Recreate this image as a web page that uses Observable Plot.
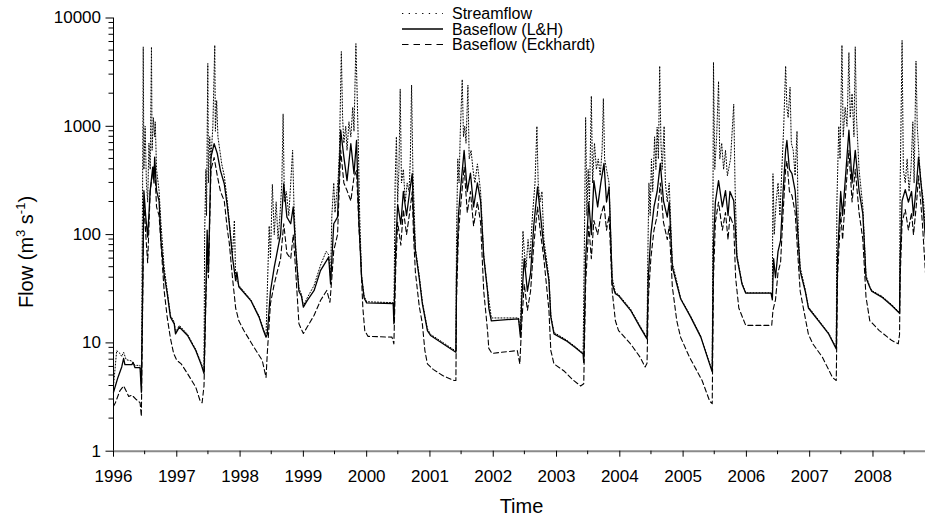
<!DOCTYPE html>
<html><head><meta charset="utf-8">
<script src="https://cdn.jsdelivr.net/npm/d3@7"></script>
<script src="https://cdn.jsdelivr.net/npm/@observablehq/plot@0.6"></script>
<style>body{margin:0;background:#fff}#chart{width:925px;height:517px}</style>
</head><body><div id="chart"></div>
<script>
const xTicks = [1996,1997,1998,1999,2000,2001,2002,2003,2004,2005,2006,2007,2008];
const xMinorTicks = [1996.5,1997.5,1998.5,1999.5,2000.5,2001.5,2002.5,2003.5,2004.5,2005.5,2006.5,2007.5,2008.5];
const yTicks = [1,10,100,1000,10000];
const yMinorTicks = [2,3,4,5,6,7,8,9,20,30,40,50,60,70,80,90,200,300,400,500,600,700,800,900,2000,3000,4000,5000,6000,7000,8000,9000];
const seriesNames = ["Streamflow","Baseflow (L&H)","Baseflow (Eckhardt)"];

const streamflow = [
[1996.00,4.0],[1996.05,8.5],[1996.10,8.0],[1996.13,7.5],[1996.16,8.2],[1996.20,7.0],[1996.29,6.8],[1996.34,6.2],[1996.42,6.2],[1996.44,4.0],[1996.46,300],[1996.47,5400],[1996.48,400],[1996.50,1000],[1996.52,300],[1996.54,200],[1996.56,700],[1996.58,400],[1996.60,5400],[1996.61,600],[1996.63,1200],[1996.65,800],[1996.66,1100],[1996.68,400],[1996.72,255],[1996.75,126],[1996.80,50],[1996.85,30],[1996.90,18],[1996.96,15.5],[1996.98,12.5],[1997.04,14.5],[1997.17,12],[1997.30,8.7],[1997.39,6.4],[1997.43,5.4],
[1997.44,100],[1997.46,400],[1997.47,150],[1997.49,3800],[1997.50,300],[1997.52,800],[1997.54,500],[1997.57,1000],[1997.60,5600],[1997.61,900],[1997.63,1730],[1997.65,800],[1997.68,600],[1997.71,450],[1997.75,350],[1997.80,200],[1997.83,130],[1997.88,65],[1997.91,135],[1997.93,40],[1997.98,34],[1998.17,25],[1998.30,17.6],[1998.37,13.3],[1998.41,11.5],
[1998.43,30],[1998.46,120],[1998.48,60],[1998.51,290],[1998.54,100],[1998.57,200],[1998.60,90],[1998.63,150],[1998.66,300],[1998.68,1300],[1998.70,200],[1998.73,250],[1998.77,150],[1998.80,300],[1998.83,600],[1998.85,200],[1998.88,75],[1998.93,32],[1998.97,28],[1999.00,22],[1999.06,26],[1999.17,34],[1999.27,52],[1999.36,70],[1999.40,65],[1999.43,40],
[1999.45,150],[1999.48,300],[1999.50,160],[1999.53,250],[1999.55,330],[1999.57,600],[1999.60,4900],[1999.62,1200],[1999.64,700],[1999.67,1000],[1999.69,600],[1999.72,1100],[1999.75,800],[1999.78,1500],[1999.80,900],[1999.83,5800],[1999.85,2000],[1999.87,600],[1999.89,150],[1999.92,42],[1999.96,27],[2000.00,24],[2000.42,23.5],[2000.43,16],
[2000.45,300],[2000.47,800],[2000.49,200],[2000.51,400],[2000.53,2200],[2000.55,300],[2000.58,400],[2000.61,200],[2000.64,300],[2000.67,250],[2000.69,500],[2000.71,2400],[2000.73,400],[2000.75,180],[2000.77,75],[2000.83,42],[2000.88,24],[2000.96,13.5],[2001.01,12],[2001.41,8.4],
[2001.42,100],[2001.44,500],[2001.46,300],[2001.48,900],[2001.51,2700],[2001.53,800],[2001.55,1000],[2001.57,700],[2001.60,2400],[2001.62,500],[2001.65,600],[2001.68,400],[2001.71,300],[2001.75,450],[2001.80,250],[2001.85,65],[2001.91,31],[2001.97,17],[2002.40,17],[2002.43,12],
[2002.45,40],[2002.47,108],[2002.49,70],[2002.52,50],[2002.55,90],[2002.58,60],[2002.62,150],[2002.66,300],[2002.69,1000],[2002.71,300],[2002.74,200],[2002.77,250],[2002.80,90],[2002.88,40],[2002.91,18],[2002.96,12.5],[2003.15,10.7],[2003.30,9.2],[2003.42,8],
[2003.44,80],[2003.46,1200],[2003.48,150],[2003.50,400],[2003.52,200],[2003.55,1900],[2003.57,300],[2003.60,700],[2003.63,400],[2003.66,500],[2003.69,350],[2003.72,600],[2003.74,1800],[2003.76,500],[2003.79,400],[2003.83,300],[2003.88,40],[2003.93,29],[2003.98,28],[2004.17,20.5],[2004.32,14.3],[2004.43,11.2],
[2004.44,50],[2004.46,300],[2004.48,150],[2004.50,500],[2004.52,250],[2004.55,800],[2004.57,400],[2004.59,980],[2004.61,500],[2004.63,3600],[2004.65,700],[2004.67,400],[2004.70,1000],[2004.72,300],[2004.75,200],[2004.78,300],[2004.83,55],[2004.90,37],[2004.96,26],[2005.12,17.6],[2005.28,11.5],[2005.40,7],[2005.46,5.5],
[2005.47,100],[2005.48,3900],[2005.50,400],[2005.53,800],[2005.56,2600],[2005.58,500],[2005.61,700],[2005.64,400],[2005.67,600],[2005.70,350],[2005.75,500],[2005.80,1600],[2005.82,300],[2005.85,65],[2005.93,36],[2005.99,29],[2006.39,29],[2006.41,26],
[2006.42,365],[2006.44,100],[2006.47,200],[2006.50,300],[2006.53,150],[2006.56,400],[2006.59,1000],[2006.62,3600],[2006.64,1500],[2006.66,1200],[2006.69,2300],[2006.71,700],[2006.74,600],[2006.77,350],[2006.80,900],[2006.82,100],[2006.85,50],[2006.93,31],[2006.98,21.5],[2007.14,16.3],[2007.30,12.3],[2007.42,9],
[2007.43,200],[2007.46,1000],[2007.48,500],[2007.51,5600],[2007.53,800],[2007.56,1500],[2007.59,1000],[2007.62,4800],[2007.64,1200],[2007.67,2000],[2007.70,800],[2007.72,5400],[2007.74,1200],[2007.78,400],[2007.84,180],[2007.89,42],[2007.95,33],[2007.98,30.5],[2008.14,27],[2008.30,22.5],[2008.42,19],
[2008.43,300],[2008.46,6200],[2008.48,400],[2008.51,300],[2008.54,500],[2008.57,250],[2008.60,400],[2008.63,1100],[2008.65,300],[2008.68,4000],[2008.70,1000],[2008.73,500],[2008.76,300],[2008.80,200],[2008.83,100]
];

const baseflowLH = [
[1996.00,3.5],[1996.07,4.8],[1996.13,6.0],[1996.16,7.2],[1996.18,6.3],[1996.29,6.3],[1996.31,6.6],[1996.34,5.9],[1996.42,5.9],[1996.44,3.5],[1996.46,30],[1996.48,255],[1996.51,145],[1996.54,95],[1996.58,255],[1996.62,420],[1996.64,300],[1996.65,520],[1996.68,255],[1996.72,205],[1996.75,88],[1996.80,43],[1996.85,28.4],[1996.90,17.3],[1996.96,15],[1996.98,12.1],[1997.04,14],[1997.17,11.7],[1997.30,8.5],[1997.39,6.2],[1997.43,5.2],
[1997.46,30],[1997.48,110],[1997.50,45],[1997.54,520],[1997.59,690],[1997.64,560],[1997.69,390],[1997.75,295],[1997.80,180],[1997.83,126],[1997.88,62],[1997.93,37.6],[1997.95,45],[1997.98,33],[1998.17,24.6],[1998.30,17.3],[1998.37,13],[1998.41,11.3],
[1998.43,12],[1998.48,30],[1998.54,50],[1998.59,71],[1998.64,100],[1998.69,295],[1998.74,145],[1998.80,126],[1998.84,180],[1998.88,71],[1998.93,30],[1998.97,27],[1999.00,21.4],[1999.06,24.6],[1999.17,30.5],[1999.27,46.5],[1999.40,62],[1999.43,35],
[1999.48,126],[1999.54,145],[1999.59,920],[1999.64,520],[1999.69,315],[1999.75,690],[1999.80,365],[1999.84,740],[1999.88,124],[1999.92,40],[1999.96,26],[2000.00,23.4],[2000.42,23.1],[2000.43,15],
[2000.46,80],[2000.49,190],[2000.54,125],[2000.58,250],[2000.63,150],[2000.68,250],[2000.72,366],[2000.74,150],[2000.77,71],[2000.83,40],[2000.88,23],[2000.96,13],[2001.01,11.7],[2001.41,8.2],
[2001.42,40],[2001.45,150],[2001.48,250],[2001.54,600],[2001.59,250],[2001.64,370],[2001.69,180],[2001.75,300],[2001.80,205],[2001.85,62],[2001.91,30],[2001.93,21],[2001.97,16],[2002.40,16.7],[2002.43,11.3],
[2002.45,25],[2002.49,60],[2002.54,30],[2002.59,44],[2002.64,120],[2002.70,275],[2002.75,145],[2002.80,76],[2002.88,37.6],[2002.91,17.3],[2002.96,12.1],[2003.15,10.5],[2003.30,9],[2003.42,7.9],[2003.43,6.6],
[2003.46,60],[2003.51,200],[2003.55,100],[2003.59,315],[2003.65,180],[2003.70,300],[2003.75,455],[2003.79,200],[2003.83,275],[2003.88,35],[2003.93,28.4],[2003.98,27.3],[2004.17,20],[2004.32,14],[2004.43,10.9],
[2004.45,40],[2004.49,100],[2004.54,180],[2004.59,250],[2004.64,455],[2004.69,205],[2004.75,145],[2004.78,200],[2004.83,50],[2004.90,35],[2004.96,25.6],[2005.12,17.3],[2005.28,11.3],[2005.40,6.9],[2005.46,5.4],
[2005.48,80],[2005.51,200],[2005.56,315],[2005.62,180],[2005.67,255],[2005.71,150],[2005.74,250],[2005.80,205],[2005.85,62],[2005.93,35],[2005.99,28.8],[2006.39,28.8],[2006.41,25],
[2006.43,60],[2006.46,40],[2006.50,70],[2006.54,88],[2006.58,250],[2006.62,600],[2006.64,740],[2006.68,400],[2006.72,366],[2006.77,255],[2006.85,46],[2006.93,30],[2006.98,21],[2007.14,16],[2007.30,12.1],[2007.42,8.8],
[2007.44,60],[2007.49,250],[2007.52,150],[2007.57,366],[2007.62,920],[2007.67,300],[2007.72,600],[2007.78,255],[2007.84,155],[2007.89,40],[2007.95,32.7],[2007.98,30],[2008.14,26.5],[2008.30,22],[2008.42,18.8],
[2008.43,60],[2008.46,205],[2008.51,260],[2008.56,200],[2008.61,250],[2008.64,150],[2008.69,300],[2008.72,520],[2008.78,220],[2008.83,90]
];

const baseflowEck = [
[1996.00,2.6],[1996.03,2.8],[1996.10,3.6],[1996.16,4.0],[1996.20,3.6],[1996.24,3.2],[1996.29,3.3],[1996.36,3.0],[1996.42,2.8],[1996.44,2.1],[1996.46,20],[1996.48,205],[1996.51,100],[1996.54,55],[1996.58,255],[1996.62,380],[1996.65,450],[1996.68,180],[1996.72,150],[1996.75,82],[1996.80,30.5],[1996.85,17],[1996.90,11],[1996.95,8],[1997.00,6.9],[1997.07,6.4],[1997.17,5.2],[1997.30,3.9],[1997.37,2.9],[1997.40,2.8],[1997.43,4.0],
[1997.46,25],[1997.48,70],[1997.50,40],[1997.54,400],[1997.59,515],[1997.64,350],[1997.69,250],[1997.75,205],[1997.80,110],[1997.83,83],[1997.88,40],[1997.93,21],[1997.98,16],[1998.06,13],[1998.22,9.1],[1998.35,6.9],[1998.41,4.8],
[1998.43,8],[1998.48,23],[1998.54,35],[1998.59,46],[1998.64,60],[1998.69,126],[1998.74,67],[1998.80,60],[1998.84,100],[1998.88,45],[1998.93,15],[1999.00,12.2],[1999.06,14],[1999.17,18],[1999.27,24.6],[1999.37,30.5],[1999.42,23.7],
[1999.45,40],[1999.48,71],[1999.54,100],[1999.59,600],[1999.64,300],[1999.69,255],[1999.75,205],[1999.80,340],[1999.84,390],[1999.88,109],[1999.90,71],[1999.94,21],[1999.97,13],[2000.02,11.5],[2000.40,11.3],[2000.43,9.8],
[2000.46,50],[2000.49,130],[2000.54,80],[2000.58,170],[2000.63,100],[2000.68,160],[2000.72,250],[2000.74,100],[2000.77,45],[2000.83,22],[2000.88,15],[2000.92,8.5],[2000.96,6.4],[2001.05,5.7],[2001.20,5.0],[2001.38,4.5],[2001.41,4.5],
[2001.42,25],[2001.45,100],[2001.48,170],[2001.54,420],[2001.59,160],[2001.64,250],[2001.69,120],[2001.75,200],[2001.80,130],[2001.85,30],[2001.91,13],[2001.93,8.9],[2001.98,8],[2002.38,8.5],[2002.42,6.4],
[2002.45,15],[2002.49,35],[2002.54,20],[2002.59,30],[2002.64,80],[2002.70,180],[2002.75,100],[2002.80,60],[2002.88,20],[2002.91,8.5],[2002.96,6.4],[2003.12,5.5],[2003.25,4.6],[2003.38,4.0],[2003.43,4.2],
[2003.46,35],[2003.51,120],[2003.55,60],[2003.59,135],[2003.65,100],[2003.70,150],[2003.75,190],[2003.79,110],[2003.83,150],[2003.88,30],[2003.93,16],[2003.98,13],[2004.17,9.8],[2004.32,7.4],[2004.40,6],[2004.43,6.5],
[2004.45,25],[2004.49,60],[2004.54,110],[2004.59,150],[2004.64,300],[2004.69,130],[2004.75,90],[2004.78,120],[2004.83,33],[2004.90,16],[2004.96,11.3],[2005.10,7.4],[2005.30,4.5],[2005.42,2.9],[2005.46,2.75],
[2005.48,40],[2005.51,130],[2005.56,200],[2005.62,110],[2005.67,160],[2005.71,90],[2005.74,150],[2005.80,120],[2005.83,40],[2005.88,21],[2005.99,14.5],[2006.40,14.5],[2006.42,20],
[2006.46,25],[2006.50,45],[2006.54,55],[2006.58,160],[2006.62,400],[2006.64,480],[2006.68,250],[2006.72,230],[2006.77,160],[2006.85,30],[2006.93,17],[2006.98,12],[2007.05,9.8],[2007.20,7.4],[2007.36,4.8],[2007.42,4.5],
[2007.44,40],[2007.49,160],[2007.52,90],[2007.57,250],[2007.62,600],[2007.67,200],[2007.72,400],[2007.78,160],[2007.84,90],[2007.89,26.5],[2007.95,16],[2008.00,15],[2008.10,13],[2008.30,10.5],[2008.40,9.8],[2008.42,12],
[2008.43,40],[2008.46,130],[2008.51,170],[2008.56,110],[2008.61,160],[2008.64,100],[2008.69,200],[2008.72,350],[2008.78,130],[2008.83,44]
];

const FONT = "'Liberation Sans', Arial, Helvetica, sans-serif";
const rows = (arr, s) => arr.map(([t, v]) => ({t, v, s}));

const plot = Plot.plot({
  width: 925, height: 517,
  marginLeft: 113, marginRight: 0, marginTop: 17.5, marginBottom: 66.3,
  style: {fontFamily: FONT, fontSize: "17px", background: "white", color: "black"},
  x: {domain: [1996, 2008.83]},
  y: {type: "log", domain: [1, 10000]},
  marks: [
    Plot.line(rows(streamflow, seriesNames[0]), {x: "t", y: "v", stroke: "black", strokeWidth: 1, strokeDasharray: "1,2"}),
    Plot.line(rows(baseflowEck, seriesNames[2]), {x: "t", y: "v", stroke: "black", strokeWidth: 1.1, strokeDasharray: "5,3"}),
    Plot.line(rows(baseflowLH, seriesNames[1]), {x: "t", y: "v", stroke: "black", strokeWidth: 1.3}),
    Plot.ruleY([1], {stroke: "#8a8a8a", strokeWidth: 2}),
    Plot.ruleX([1996], {stroke: "black", strokeWidth: 1}),
    Plot.axisY({ticks: yTicks, tickSize: 7.5, tickPadding: 5, tickFormat: d => String(d), label: null, fontSize: 17}),
    Plot.axisX({ticks: xTicks, tickSize: 6, tickPadding: 13, tickFormat: d => String(d), label: null, fontSize: 17})
  ]
});
document.getElementById("chart").appendChild(plot);

const svg = d3.select(plot);
const xs = plot.scale("x"), ys = plot.scale("y");
const x0 = xs.apply(1996), y0 = ys.apply(1);
const minor = svg.append("g").attr("stroke", "black").attr("stroke-width", 1);
yMinorTicks.forEach(v => {
  const y = ys.apply(v);
  minor.append("line").attr("x1", x0 - 4.5).attr("x2", x0).attr("y1", y).attr("y2", y);
});
xMinorTicks.forEach(v => {
  const x = xs.apply(v);
  minor.append("line").attr("x1", x).attr("x2", x).attr("y1", y0).attr("y2", y0 + 3.5);
});

const lg = svg.append("g").attr("font-family", FONT).attr("font-size", 16).attr("fill", "black").attr("text-anchor", "start");
const legendStyles = [
  {dash: "1.3,5.4", w: 1},
  {dash: null, w: 1.3},
  {dash: "6.5,5", w: 1.1}
];
seriesNames.forEach((name, i) => {
  const y = 13.5 + i * 15.5;
  const ln = lg.append("line").attr("x1", 402).attr("x2", 443).attr("y1", y).attr("y2", y)
    .attr("stroke", "black").attr("stroke-width", legendStyles[i].w);
  if (legendStyles[i].dash) ln.attr("stroke-dasharray", legendStyles[i].dash);
  lg.append("text").attr("x", 452).attr("y", y).attr("dy", "0.35em").attr("text-anchor", "start").text(name);
});

svg.append("text").attr("x", 521.5).attr("y", 513).attr("text-anchor", "middle")
  .attr("font-family", FONT).attr("font-size", 20).attr("fill", "black").text("Time");

const yt = svg.append("text").attr("transform", "translate(32.5,252) rotate(-90)")
  .attr("text-anchor", "middle").attr("font-family", FONT).attr("font-size", 20).attr("fill", "black");
yt.append("tspan").text("Flow (m");
yt.append("tspan").attr("dy", -8).attr("font-size", 13).text("3");
yt.append("tspan").attr("dy", 8).text(" s");
yt.append("tspan").attr("dy", -8).attr("font-size", 13).text("-1");
yt.append("tspan").attr("dy", 8).text(")");
</script>
</body></html>
